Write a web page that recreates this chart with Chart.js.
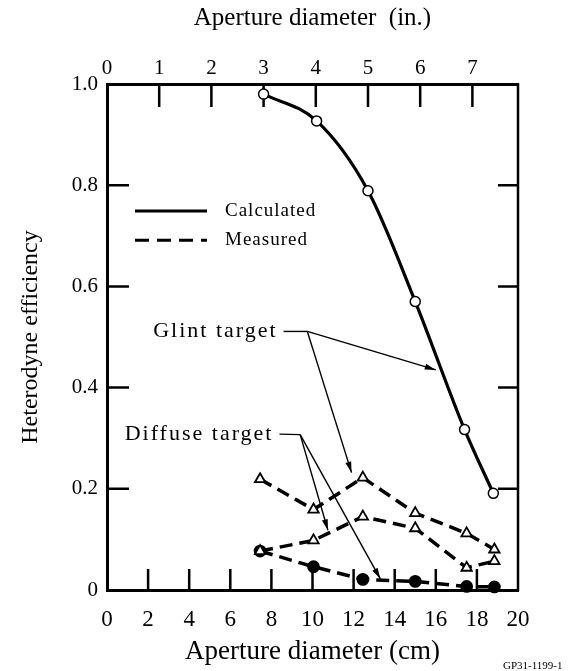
<!DOCTYPE html>
<html>
<head>
<meta charset="utf-8">
<script src="https://cdn.jsdelivr.net/npm/chart.js@4.4.1/dist/chart.umd.min.js"></script>
<style>
  html, body { margin: 0; padding: 0; background: #fff; }
</style>
</head>
<body>
<canvas id="chart" width="575" height="671"></canvas>
<script>
// Aperture diameter (cm) and heterodyne efficiency
const calcX = [7.62, 10.2, 12.7, 15.0, 17.4, 18.8];
const calcEff = [0.98, 0.927, 0.789, 0.570, 0.317, 0.191];

const measX = [7.45, 10.05, 12.45, 15.0, 17.5, 18.85];
const glintUpper = [0.219, 0.159, 0.222, 0.152, 0.112, 0.080];
const glintLower = [0.077, 0.098, 0.145, 0.122, 0.044, 0.057];
const diffuseEff = [0.077, 0.046, 0.021, 0.017, 0.007, 0.006];

const cmTicks = [0, 2, 4, 6, 8, 10, 12, 14, 16, 18, 20];
const inchTicks = [0, 1, 2, 3, 4, 5, 6, 7];
const effTicks = [0, 0.2, 0.4, 0.6, 0.8, 1.0];

const CM_PER_INCH = 2.54;
const SERIF = "'Liberation Serif', 'DejaVu Serif', serif";

// leader-line labels, in data units (cm, efficiency)
const glintNote = { text: 'Glint target', x: 8.3, y: 0.511, elbow: [9.75, 0.511],
    heads: [[16.0, 0.435], [11.9, 0.232]] };
const diffuseNote = { text: 'Diffuse target', x: 8.1, y: 0.308, elbow: [9.4, 0.307],
    heads: [[10.75, 0.118], [13.3, 0.022]] };

const pts = (xs, ys) => xs.map((x, i) => ({ x: x, y: ys[i] }));

function arrow(ctx, x1, y1, x2, y2) {
    ctx.beginPath();
    ctx.moveTo(x1, y1);
    ctx.lineTo(x2, y2);
    ctx.stroke();
    const a = Math.atan2(y2 - y1, x2 - x1);
    const len = 11, half = 3;
    ctx.beginPath();
    ctx.moveTo(x2, y2);
    ctx.lineTo(x2 - len * Math.cos(a) + half * Math.sin(a), y2 - len * Math.sin(a) - half * Math.cos(a));
    ctx.lineTo(x2 - len * Math.cos(a) - half * Math.sin(a), y2 - len * Math.sin(a) + half * Math.cos(a));
    ctx.closePath();
    ctx.fill();
}

// inward tick marks, right-hand frame, legend and notes
const frameTicks = {
    id: 'frameTicks',
    beforeDatasetsDraw(chart) {
        const { ctx, chartArea: a, scales } = chart;
        ctx.save();
        ctx.strokeStyle = '#000';
        ctx.lineWidth = 2.5;
        ctx.beginPath();
        ctx.moveTo(a.right, a.top - 1);
        ctx.lineTo(a.right, a.bottom + 1);
        ctx.stroke();
        ctx.beginPath();
        cmTicks.slice(1, -1).forEach(v => {
            const x = scales.x.getPixelForValue(v);
            ctx.moveTo(x, a.bottom);
            ctx.lineTo(x, a.bottom - 21);
        });
        inchTicks.slice(1).forEach(v => {
            const x = scales.x2.getPixelForValue(v);
            ctx.moveTo(x, a.top);
            ctx.lineTo(x, a.top + 23);
        });
        effTicks.slice(1, -1).forEach(v => {
            const y = scales.y.getPixelForValue(v);
            ctx.moveTo(a.left, y);
            ctx.lineTo(a.left + 22, y);
            ctx.moveTo(a.right, y);
            ctx.lineTo(a.right - 20, y);
        });
        ctx.stroke();
        ctx.restore();
    },
    afterDatasetsDraw(chart) {
        const { ctx, chartArea: a, scales } = chart;
        const px = v => scales.x.getPixelForValue(v);
        const py = v => scales.y.getPixelForValue(v);
        ctx.save();

        // legend
        ctx.strokeStyle = '#000';
        ctx.lineWidth = 3;
        ctx.beginPath();
        ctx.moveTo(a.left + 28, py(0.749));
        ctx.lineTo(a.left + 100, py(0.749));
        ctx.stroke();
        ctx.setLineDash([14, 8]);
        ctx.beginPath();
        ctx.moveTo(a.left + 28, py(0.691));
        ctx.lineTo(a.left + 100, py(0.691));
        ctx.stroke();
        ctx.setLineDash([]);
        ctx.fillStyle = '#000';
        ctx.font = '19px ' + SERIF;
        ctx.letterSpacing = '1px';
        ctx.textAlign = 'left';
        ctx.textBaseline = 'middle';
        ctx.fillText('Calculated', a.left + 118, py(0.749));
        ctx.fillText('Measured', a.left + 118, py(0.691));

        // target notes
        ctx.font = '22px ' + SERIF;
        ctx.letterSpacing = '2px';
        ctx.textAlign = 'right';
        ctx.lineWidth = 1.4;
        [glintNote, diffuseNote].forEach(n => {
            ctx.fillText(n.text, px(n.x), py(n.y));
            const ex = px(n.elbow[0]), ey = py(n.elbow[1]);
            ctx.beginPath();
            ctx.moveTo(px(n.x) + 6, py(n.y));
            ctx.lineTo(ex, ey);
            ctx.stroke();
            n.heads.forEach(h => arrow(ctx, ex, ey, px(h[0]), py(h[1])));
        });
        ctx.letterSpacing = '0px';

        // figure code
        ctx.font = '11px ' + SERIF;
        ctx.textAlign = 'left';
        ctx.fillText('GP31-1199-1', 503, 666);
        ctx.restore();
    }
};

const measuredStyle = {
    borderColor: '#000',
    borderWidth: 3.5,
    borderDash: [13, 7],
    pointStyle: 'triangle',
    pointRadius: 6,
    pointBackgroundColor: '#fff',
    pointBorderColor: '#000',
    pointBorderWidth: 1.8,
    clip: false
};

new Chart(document.getElementById('chart'), {
    type: 'line',
    data: {
        datasets: [
            {
                label: 'Calculated',
                data: pts(calcX, calcEff),
                borderColor: '#000',
                borderWidth: 3.2,
                cubicInterpolationMode: 'monotone',
                pointStyle: 'circle',
                pointRadius: 5,
                pointBackgroundColor: '#fff',
                pointBorderColor: '#000',
                pointBorderWidth: 1.5,
                clip: false
            },
            Object.assign({ label: 'Glint (measured, upper)', data: pts(measX, glintUpper) }, measuredStyle),
            Object.assign({ label: 'Glint (measured, lower)', data: pts(measX, glintLower) }, measuredStyle),
            Object.assign({}, measuredStyle, {
                label: 'Diffuse (measured)',
                data: pts(measX, diffuseEff),
                pointStyle: 'circle',
                pointRadius: 5.5,
                pointBackgroundColor: '#000'
            })
        ]
    },
    options: {
        responsive: false,
        animation: false,
        devicePixelRatio: 1,
        layout: { padding: { left: 0, right: 57, top: 0, bottom: 0 } },
        plugins: { legend: { display: false }, tooltip: { enabled: false } },
        scales: {
            x: {
                type: 'linear',
                position: 'bottom',
                min: 0,
                max: 20,
                afterBuildTicks: s => { s.ticks = cmTicks.map(v => ({ value: v })); },
                afterFit: s => { s.height = 81; },
                grid: { drawOnChartArea: false, drawTicks: false },
                border: { display: true, color: '#000', width: 3 },
                ticks: { color: '#000', padding: 16, maxRotation: 0, font: { family: SERIF, size: 23 } },
                title: {
                    display: true,
                    text: 'Aperture diameter (cm)',
                    color: '#000',
                    font: { family: SERIF, size: 27 },
                    padding: { top: 0, bottom: 3 }
                }
            },
            x2: {
                type: 'linear',
                position: 'top',
                min: 0,
                max: 20 / CM_PER_INCH,
                afterBuildTicks: s => { s.ticks = inchTicks.map(v => ({ value: v })); },
                afterFit: s => { s.height = 84; },
                grid: { drawOnChartArea: false, drawTicks: false },
                border: { display: true, color: '#000', width: 3 },
                ticks: { color: '#000', padding: 3, maxRotation: 0, font: { family: SERIF, size: 21 } },
                title: {
                    display: true,
                    text: 'Aperture diameter  (in.)',
                    color: '#000',
                    font: { family: SERIF, size: 25 },
                    padding: { top: 3, bottom: 0 }
                }
            },
            y: {
                type: 'linear',
                position: 'left',
                min: 0,
                max: 1,
                afterBuildTicks: s => { s.ticks = effTicks.map(v => ({ value: v })); },
                afterFit: s => { s.width = 107; },
                grid: { drawOnChartArea: false, drawTicks: false },
                border: { display: true, color: '#000', width: 3 },
                ticks: {
                    color: '#000',
                    padding: 9,
                    font: { family: SERIF, size: 21 },
                    callback: v => (v === 0 ? '0' : v.toFixed(1))
                },
                title: {
                    display: true,
                    text: 'Heterodyne efficiency',
                    color: '#000',
                    font: { family: SERIF, size: 24 },
                    padding: { top: 16, bottom: 0 }
                }
            }
        }
    },
    plugins: [frameTicks]
});
</script>
</body>
</html>
